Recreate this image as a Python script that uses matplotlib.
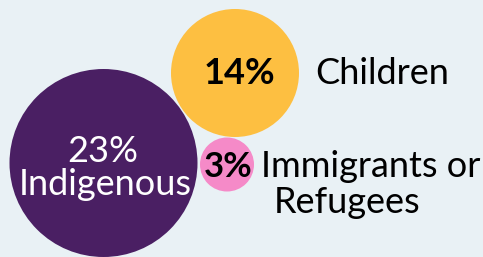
import matplotlib.pyplot as plt
from matplotlib.patches import Circle

# data
groups = ['Indigenous', 'Children', 'Immigrants or', 'Refugees']
values = [23, 14, 3]
colors = ['#4a1f63', '#fdbf41', '#f58ac8']

# layout (pixels)
centers = [(103.5, 163), (235, 73), (227, 164.5)]
radii = [94, 64, 27]

fig = plt.figure(figsize=(4.83, 2.57), dpi=100)
fig.patch.set_facecolor('#e9f1f5')
ax = fig.add_axes([0, 0, 1, 1])
ax.set_xlim(0, 483)
ax.set_ylim(257, 0)
ax.set_aspect('equal')
ax.axis('off')

for c, r, col in zip(centers, radii, colors):
    ax.add_patch(Circle(c, r, color=col, lw=0))

fs = 26
# Indigenous
ax.text(103, 162, f'{values[0]}%', color='white', fontsize=fs, family='Lato',
        ha='center', va='baseline')
ax.text(105, 195, groups[0], color='white', fontsize=fs, family='Lato',
        ha='center', va='baseline')
# Children
ax.text(239.5, 84, f'{values[1]}%', color='black', fontsize=fs, family='Lato',
        fontweight='bold', ha='center', va='baseline')
ax.text(315, 84, groups[1], color='black', fontsize=fs, family='Lato',
        ha='left', va='baseline')
# Immigrants
ax.text(228.5, 177, f'{values[2]}%', color='black', fontsize=25, family='Lato',
        fontweight='bold', ha='center', va='baseline')
ax.text(261, 177, groups[2], color='black', fontsize=fs, family='Lato',
        ha='left', va='baseline')
ax.text(274, 213, groups[3], color='black', fontsize=fs, family='Lato',
        ha='left', va='baseline')

fig.savefig('out.png', dpi=100, facecolor=fig.get_facecolor())
